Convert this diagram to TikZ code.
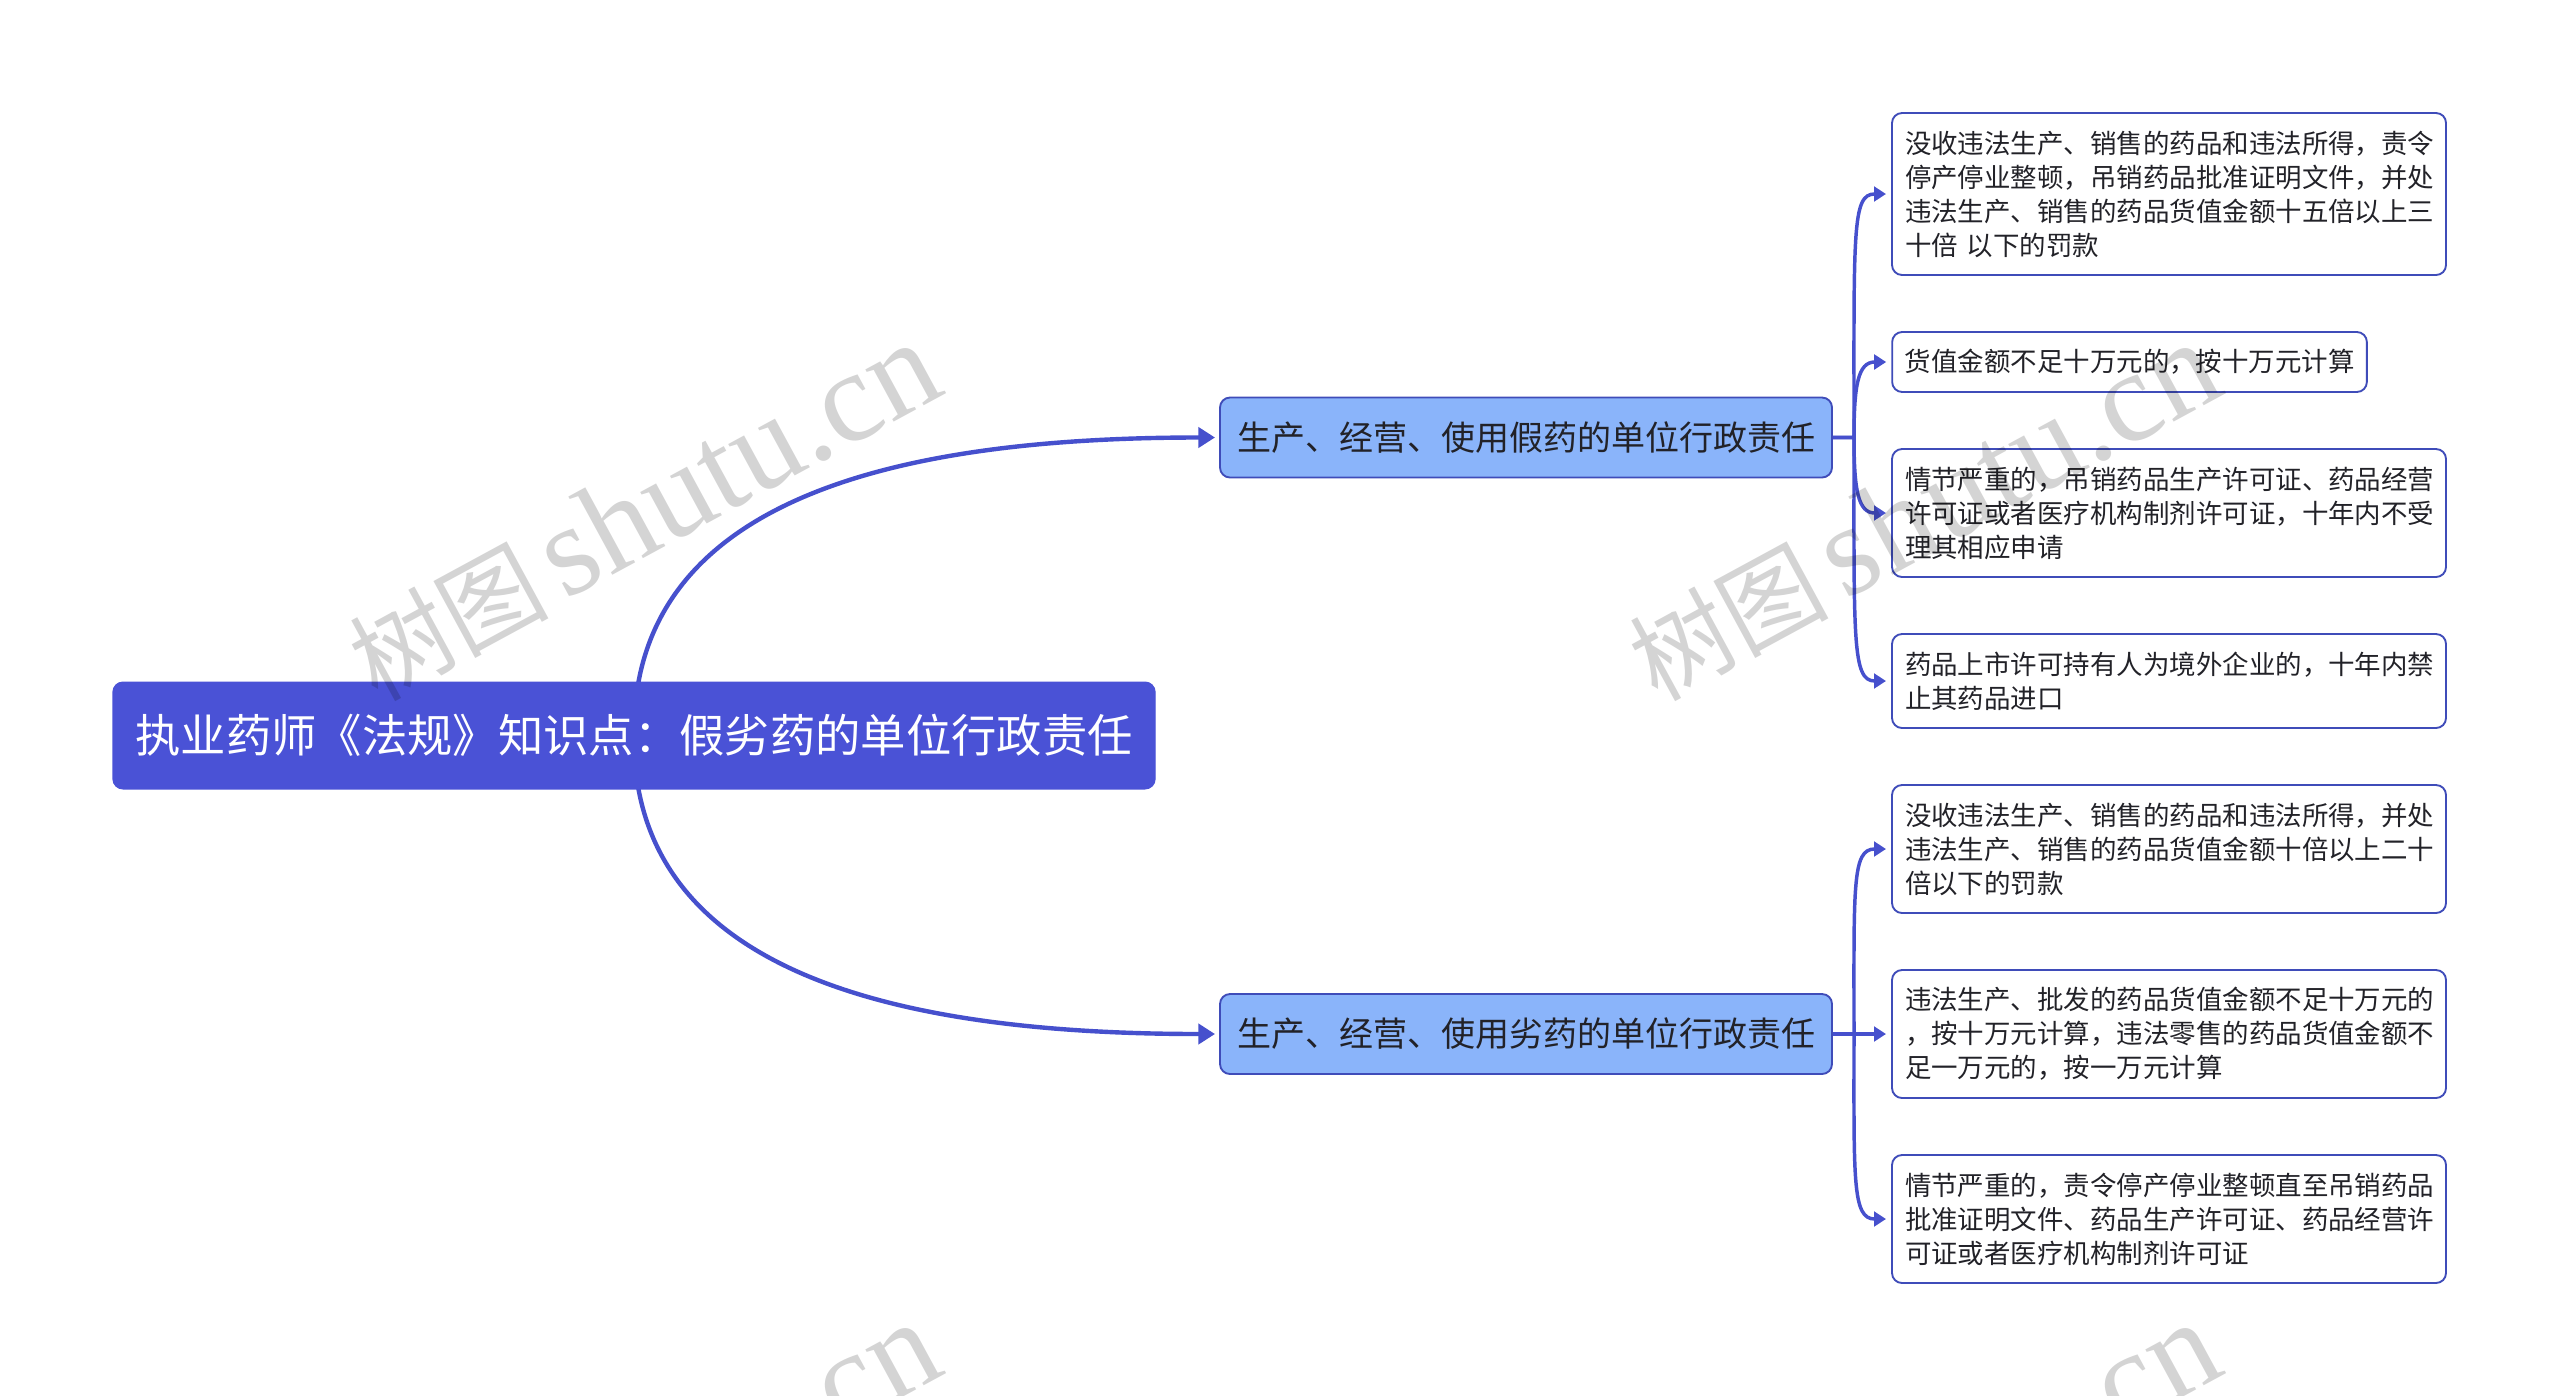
\documentclass[tikz,border=0pt]{standalone}
\usepackage{fontspec}
\setmainfont{Noto Sans CJK SC}
\newfontfamily\wmlatin{Liberation Serif}
\usetikzlibrary{arrows.meta,backgrounds}
\definecolor{rootblue}{RGB}{74,82,214}
\definecolor{branchblue}{RGB}{138,180,250}
\definecolor{edgeblue}{RGB}{63,76,185}
\definecolor{linkblue}{RGB}{70,80,205}
\definecolor{inktext}{RGB}{34,34,40}
\tikzset{
  rootbox/.style={draw=rootblue,fill=rootblue,text=white,rounded corners=7.5pt,line width=1pt,inner sep=0pt,outer sep=0pt,
    minimum width=781.5pt,minimum height=80pt,font=\fontsize{34pt}{40pt}\selectfont},
  branchbox/.style={draw=edgeblue,fill=branchblue,text=inktext,rounded corners=7.5pt,line width=1.4pt,inner sep=0pt,outer sep=0pt,
    minimum width=459pt,minimum height=60pt,font=\fontsize{25.5pt}{30pt}\selectfont},
  leafbox/.style={draw=edgeblue,fill=white,text=inktext,rounded corners=7.5pt,line width=1.4pt,inner ysep=0pt,inner xsep=0pt,outer sep=0pt,
    align=left,font=\fontsize{19.85pt}{25.5pt}\selectfont},
  rootlink/.style={draw=linkblue,line width=3.3pt,-{Triangle[length=12.5pt,width=15pt]}},
  leaflink/.style={draw=linkblue,line width=2.6pt,-{Triangle[length=9pt,width=11pt]}},
  watermark/.style={text=black,text opacity=0.17,rotate=28.5,anchor=center,font=\fontsize{75pt}{90pt}\selectfont}
}
\newcommand{\wmtext}{树图\hspace{0.15em}{\wmlatin\fontsize{97pt}{110pt}\selectfont shutu.cn}}
\begin{document}
\begin{tikzpicture}[x=0.75pt,y=-0.75pt]
\useasboundingbox (0,0) rectangle (2560,1396);
\clip (0,0) rectangle (2560,1396);

\node[rootbox] (root) at (634,735.5) {执业药师《法规》知识点：假劣药的单位行政责任};
\node[branchbox] (b1) at (1526,437.5) {生产、经营、使用假药的单位行政责任};
\node[branchbox] (b2) at (1526,1034) {生产、经营、使用劣药的单位行政责任};

\node[leafbox,minimum width=415.5pt,minimum height=121.5pt,text width=396pt] (l1) at (2169,194) {没收违法生产、销售的药品和违法所得，责令\\停产停业整顿，吊销药品批准证明文件，并处\\违法生产、销售的药品货值金额十五倍以上三\\十倍 以下的罚款};
\node[leafbox,minimum width=356pt,minimum height=45pt,text width=337pt] (l2) at (2129.5,362) {货值金额不足十万元的，按十万元计算};
\node[leafbox,minimum width=415.5pt,minimum height=96pt,text width=396pt] (l3) at (2169,513) {情节严重的，吊销药品生产许可证、药品经营\\许可证或者医疗机构制剂许可证，十年内不受\\理其相应申请};
\node[leafbox,minimum width=415.5pt,minimum height=70.5pt,text width=396pt] (l4) at (2169,681) {药品上市许可持有人为境外企业的，十年内禁\\止其药品进口};
\node[leafbox,minimum width=415.5pt,minimum height=96pt,text width=396pt] (l5) at (2169,849) {没收违法生产、销售的药品和违法所得，并处\\违法生产、销售的药品货值金额十倍以上二十\\倍以下的罚款};
\node[leafbox,minimum width=415.5pt,minimum height=96pt,text width=396pt] (l6) at (2169,1034) {违法生产、批发的药品货值金额不足十万元的\\，按十万元计算，违法零售的药品货值金额不\\足一万元的，按一万元计算};
\node[leafbox,minimum width=415.5pt,minimum height=96pt,text width=396pt] (l7) at (2169,1219) {情节严重的，责令停产停业整顿直至吊销药品\\批准证明文件、药品生产许可证、药品经营许\\可证或者医疗机构制剂许可证};

\begin{scope}[on background layer]
\fill[white] (0,0) rectangle (2560,1396);
\draw[rootlink] (root.center) .. controls (632,510) and (870,437.5) .. ([xshift=-3.75pt]b1.west);
\draw[rootlink] (root.center) .. controls (632,961) and (870,1034) .. ([xshift=-3.75pt]b2.west);
\draw[leaflink] (b1.east) -- ++(22,0) .. controls (1854,230) and (1852,194) .. ([xshift=-4.5pt]l1.west);
\draw[leaflink] (b1.east) -- ++(22,0) .. controls (1854,385) and (1858,362) .. ([xshift=-4.5pt]l2.west);
\draw[leaflink] (b1.east) -- ++(22,0) .. controls (1854,490) and (1858,513) .. ([xshift=-4.5pt]l3.west);
\draw[leaflink] (b1.east) -- ++(22,0) .. controls (1854,640) and (1852,681) .. ([xshift=-4.5pt]l4.west);
\draw[leaflink] (b2.east) -- ++(22,0) .. controls (1854,885) and (1852,849) .. ([xshift=-4.5pt]l5.west);
\draw[leaflink] (b2.east) -- ([xshift=-4.5pt]l6.west);
\draw[leaflink] (b2.east) -- ++(22,0) .. controls (1854,1180) and (1852,1219) .. ([xshift=-4.5pt]l7.west);
\end{scope}

\node[watermark] (w1) at (643,512) {\wmtext};
\node[watermark] (w2) at (1923,512) {\wmtext};
\node[watermark] (w3) at (643,1492) {\wmtext};
\node[watermark] (w4) at (1923,1492) {\wmtext};
\end{tikzpicture}
\end{document}
